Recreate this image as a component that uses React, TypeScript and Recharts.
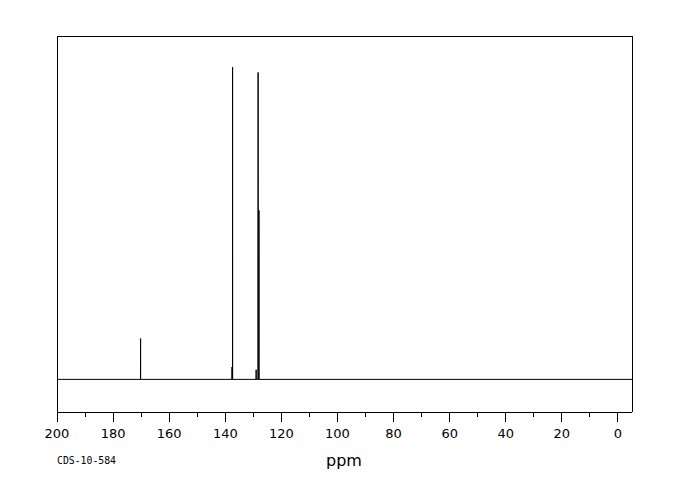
import { LineChart, Line, XAxis, YAxis } from "recharts";

// 13C NMR peaks (ppm, relative intensity)
const peakPpm = [170.2, 137.6, 137.4, 129.0, 128.3, 128.0];
const peakHeight = [11.9, 3.6, 90.9, 2.8, 89.4, 49.2];
const xTicks = [200, 190, 180, 170, 160, 150, 140, 130, 120, 110, 100, 90, 80, 70, 60, 50, 40, 30, 20, 10, 0];
const xDomain = [-5, 200];
const yDomain = [-9.5, 100];

const HALF_WIDTH = 0.03;

function buildTrace() {
  const pts = [{ ppm: xDomain[1], v: 0 }];
  const order = peakPpm
    .map((p, i) => ({ p, h: peakHeight[i] }))
    .sort((a, b) => b.p - a.p);
  order.forEach(({ p, h }) => {
    pts.push({ ppm: p + HALF_WIDTH, v: 0 });
    pts.push({ ppm: p, v: h });
    pts.push({ ppm: p - HALF_WIDTH, v: 0 });
  });
  pts.push({ ppm: xDomain[0], v: 0 });
  return pts;
}

const trace = buildTrace();

function PpmTick(props: any) {
  const { x, y, payload } = props;
  const major = payload.value % 20 === 0;
  return (
    <g>
      <line x1={x} x2={x} y1={y} y2={y + (major ? 10 : 5)} stroke="#000" shapeRendering="crispEdges" />
      {major && (
        <text x={x} y={y + 25.5} textAnchor="middle" fontSize={13} fontFamily="DejaVu Sans" fill="#000">
          {payload.value}
        </text>
      )}
    </g>
  );
}

const frameLine = { stroke: "#000", strokeWidth: 1, shapeRendering: "crispEdges" };

export default function App() {
  return (
    <div style={{ position: "absolute", left: 0, top: 0, width: 680, height: 500, background: "#fff" }}>
      <LineChart width={680} height={500} data={trace} margin={{ top: 35, right: 47, left: 56, bottom: 58 }}>
        <XAxis
          dataKey="ppm"
          type="number"
          domain={xDomain}
          reversed
          allowDataOverflow
          ticks={xTicks}
          interval={0}
          tickSize={0}
          tickMargin={0}
          tickLine={false}
          tick={<PpmTick />}
          height={30}
          axisLine={frameLine}
        />
        <XAxis
          xAxisId="top"
          orientation="top"
          dataKey="ppm"
          type="number"
          domain={xDomain}
          reversed
          tick={false}
          tickLine={false}
          height={1}
          axisLine={frameLine}
        />
        <YAxis
          type="number"
          domain={yDomain}
          allowDataOverflow
          tick={false}
          tickLine={false}
          width={1}
          axisLine={frameLine}
        />
        <YAxis
          yAxisId="right"
          orientation="right"
          type="number"
          domain={yDomain}
          tick={false}
          tickLine={false}
          width={1}
          axisLine={frameLine}
        />
        <Line
          dataKey="v"
          type="linear"
          stroke="#000"
          strokeWidth={1}
          dot={false}
          activeDot={false}
          isAnimationActive={false}
        />
      </LineChart>
      <div
        style={{
          position: "absolute",
          left: 57,
          top: 455,
          fontFamily: "DejaVu Sans Mono",
          fontSize: 9.8,
          color: "#000",
        }}
      >
        CDS-10-584
      </div>
      <div
        style={{
          position: "absolute",
          left: 344,
          top: 451,
          transform: "translateX(-50%)",
          fontFamily: "DejaVu Sans",
          fontSize: 16,
          color: "#000",
        }}
      >
        ppm
      </div>
    </div>
  );
}
